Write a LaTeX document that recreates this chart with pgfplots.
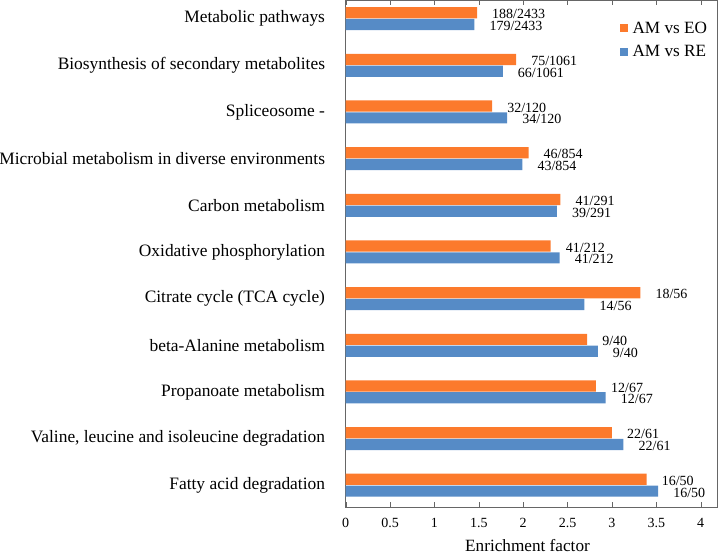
\documentclass[border=0pt]{standalone}
\usepackage{fontspec}
\setmainfont{Liberation Serif}
\usepackage{pgfplots}
\pgfplotsset{compat=1.18}
\definecolor{eo}{RGB}{252,122,44}
\definecolor{re}{RGB}{86,139,198}
\begin{document}
\begin{tikzpicture}
\begin{axis}[
  name=ax,
  xbar,
  scale only axis,
  width=371.6pt, height=506.2pt,
  xmin=0, xmax=4.187, ymin=-0.46, ymax=10.39,
  xtick={0,0.5,1,1.5,2,2.5,3,3.5,4},
  xticklabels={0,0.5,1,1.5,2,2.5,3,3.5,4},
  /pgf/number format/assume math mode=true,
  ytick={0,1,2,3,4,5,6,7,8,9,10},
  yticklabels={Fatty acid degradation,
    {Valine, leucine and isoleucine degradation},
    Propanoate metabolism,
    beta-Alanine metabolism,
    Citrate cycle (TCA cycle),
    Oxidative phosphorylation,
    Carbon metabolism,
    Microbial metabolism in diverse environments,
    Spliceosome -,
    Biosynthesis of secondary metabolites,
    Metabolic pathways},
  tick align=inside,
  major tick length=5pt,
  axis line style={black!60},
  xtick style={black!60},
  ytick style={draw=none},
  xticklabel style={font=\fontsize{14}{14}\selectfont, inner sep=0pt, anchor=north, yshift=-11.5pt},
  yticklabel style={font=\fontsize{17.4}{17}\selectfont, inner sep=0pt, anchor=east, xshift=-20.5pt},
  xlabel={Enrichment factor},
  xlabel style={font=\fontsize{17.2}{17}\selectfont, at={(axis description cs:0.5,0)}, anchor=north, inner sep=0pt, yshift=-32pt, xshift=-4pt},
  bar width=11.2pt,
  point meta=explicit symbolic,
  nodes near coords,
  nodes near coords style={font=\fontsize{14}{14}\selectfont, anchor=west, inner sep=0pt, xshift=15pt, yshift=-1.5pt, text=black},
  legend style={draw=none, fill=none, at={(rel axis cs:0.973,0.958)}, anchor=north east, inner sep=0pt, row sep=10.5pt, column sep=5pt, font=\fontsize{17.2}{17}\selectfont, nodes={inner sep=0pt}},
  legend cell align=left,
  legend image code/.code={\fill (0pt,-4pt) rectangle (8pt,4pt);},
]
\addplot[draw=none, fill=eo, bar shift=5.9pt] coordinates {
  (3.39,0) [16/50]
  (3.00,1) [22/61]
  (2.82,2) [12/67]
  (2.72,3) [9/40]
  (3.32,4) [18/56]
  (2.31,5) [41/212]
  (2.42,6) [41/291]
  (2.06,7) [46/854]
  (1.65,8) [32/120]
  (1.92,9) [75/1061]
  (1.48,10) [188/2433]
};
\addlegendentry{AM vs EO}
\addplot[draw=none, fill=re, bar shift=-5.9pt] coordinates {
  (3.52,0) [16/50]
  (3.13,1) [22/61]
  (2.93,2) [12/67]
  (2.84,3) [9/40]
  (2.69,4) [14/56]
  (2.41,5) [41/212]
  (2.38,6) [39/291]
  (1.99,7) [43/854]
  (1.82,8) [34/120]
  (1.77,9) [66/1061]
  (1.45,10) [179/2433]
};
\addlegendentry{AM vs RE}
\end{axis}
\pgfresetboundingbox
\path[use as bounding box] ([xshift=-345.7pt,yshift=-47.3pt]ax.south west) rectangle ([xshift=2.7pt,yshift=0.5pt]ax.north east);
\end{tikzpicture}
\end{document}
